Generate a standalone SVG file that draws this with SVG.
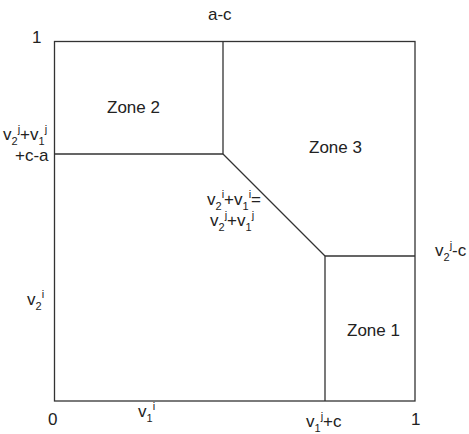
<svg xmlns="http://www.w3.org/2000/svg" width="469" height="434" viewBox="0 0 469 434">
<style>
.ln{stroke:#333;stroke-width:1.3;fill:none}
text{font-family:"Liberation Sans",Arial,sans-serif;font-size:17px;fill:#222}
.s{font-size:11px}
</style>
<rect width="469" height="434" fill="#fff"/>
<g id="connectors">
<rect class="ln" x="54.5" y="41.5" width="360.5" height="359.5"/>
<polyline class="ln" points="54.5,154 223,154 223,41.5"/>
<line class="ln" x1="223" y1="154" x2="325" y2="256"/>
<polyline class="ln" points="325,401 325,256 415,256"/>
</g>
<g id="zone2"><text x="107" y="113">Zone 2</text></g>
<g id="zone3"><text x="309" y="153">Zone 3</text></g>
<g id="zone1"><text x="347" y="336">Zone 1</text></g>
<g id="labels">
<text x="208" y="20">a-c</text>
<text x="32" y="43">1</text>
<text x="3" y="140">v<tspan class="s" dy="5">2</tspan><tspan class="s" dy="-12">j</tspan><tspan dy="7">+v</tspan><tspan class="s" dy="5">1</tspan><tspan class="s" dy="-12">j</tspan></text>
<text x="15" y="161">+c-a</text>
<text x="27" y="305">v<tspan class="s" dy="5">2</tspan><tspan class="s" dy="-12">i</tspan></text>
<text x="207" y="205">v<tspan class="s" dy="5">2</tspan><tspan class="s" dy="-12">i</tspan><tspan dy="7">+v</tspan><tspan class="s" dy="5">1</tspan><tspan class="s" dy="-12">i</tspan><tspan dy="7">=</tspan></text>
<text x="210" y="226">v<tspan class="s" dy="5">2</tspan><tspan class="s" dy="-12">j</tspan><tspan dy="7">+v</tspan><tspan class="s" dy="5">1</tspan><tspan class="s" dy="-12">j</tspan></text>
<text x="435" y="256">v<tspan class="s" dy="5">2</tspan><tspan class="s" dy="-12">j</tspan><tspan dy="7">-c</tspan></text>
<text x="48" y="425">0</text>
<text x="138" y="417">v<tspan class="s" dy="5">1</tspan><tspan class="s" dy="-12">i</tspan></text>
<text x="306" y="427">v<tspan class="s" dy="5">1</tspan><tspan class="s" dy="-12">j</tspan><tspan dy="7">+c</tspan></text>
<text x="411" y="425">1</text>
</g>
</svg>
